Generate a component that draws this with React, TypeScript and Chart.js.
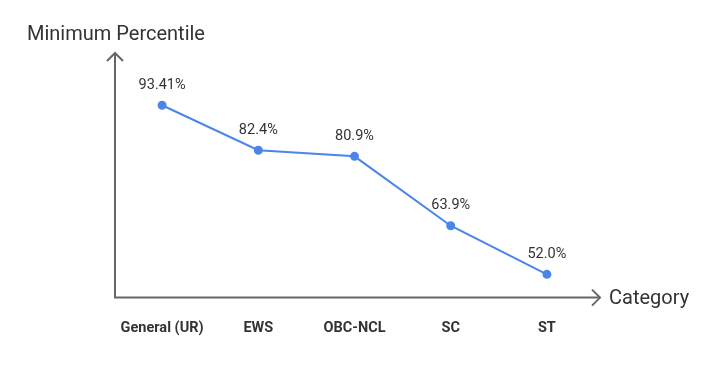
import React, { useEffect, useRef } from "react";
import { Chart, registerables } from "chart.js";

Chart.register(...registerables);

const categories = ["General (UR)", "EWS", "OBC-NCL", "SC", "ST"];
const percentiles = [93.41, 82.4, 80.9, 63.9, 52.0];
const valueLabels = ["93.41%", "82.4%", "80.9%", "63.9%", "52.0%"];
const yTitle = "Minimum Percentile";
const xTitle = "Category";

const axisColor = "#666666";
const lineColor = "#4a86e8";
const textColor = "#333333";

const decorPlugin = {
  id: "decor",
  afterDatasetsDraw(chart: any) {
    const { ctx, chartArea } = chart;
    const left = chartArea.left + 1;
    const bottom = chartArea.bottom;
    const right = chartArea.right + 5;
    const top = 53;
    ctx.save();
    ctx.strokeStyle = axisColor;
    ctx.lineWidth = 2;
    ctx.lineCap = "butt";
    ctx.beginPath();
    ctx.moveTo(left, top);
    ctx.lineTo(left, bottom);
    ctx.lineTo(right, bottom);
    ctx.stroke();
    ctx.lineJoin = "miter";
    ctx.beginPath();
    ctx.moveTo(left - 8, top + 8);
    ctx.lineTo(left, top);
    ctx.lineTo(left + 8, top + 8);
    ctx.moveTo(right - 8, bottom - 8);
    ctx.lineTo(right, bottom);
    ctx.lineTo(right - 8, bottom + 8);
    ctx.stroke();

    ctx.fillStyle = textColor;
    ctx.font = "20px Roboto";
    ctx.textBaseline = "middle";
    ctx.textAlign = "left";
    ctx.fillText(yTitle, 27, 35);
    ctx.fillText(xTitle, right + 9, bottom + 1);

    const meta = chart.getDatasetMeta(0);
    ctx.font = "14.5px Roboto";
    ctx.textAlign = "center";
    ctx.textBaseline = "middle";
    meta.data.forEach((pt: any, i: number) => {
      ctx.fillText(valueLabels[i], pt.x, pt.y - 20);
    });
    ctx.restore();
  },
};

export default function App() {
  const ref = useRef<HTMLCanvasElement | null>(null);
  useEffect(() => {
    if (!ref.current) return;
    const chart = new Chart(ref.current, {
      type: "line",
      data: {
        labels: categories,
        datasets: [
          {
            data: percentiles,
            borderColor: lineColor,
            backgroundColor: lineColor,
            borderWidth: 2,
            pointRadius: 3.5,
            pointHoverRadius: 3.5,
            pointBackgroundColor: lineColor,
            pointBorderColor: lineColor,
            tension: 0,
          },
        ],
      },
      options: {
        animation: false,
        responsive: false,
        maintainAspectRatio: false,
        layout: { padding: { top: 60, left: 114, right: 121, bottom: 7 } },
        plugins: { legend: { display: false }, tooltip: { enabled: false } },
        scales: {
          x: {
            type: "category",
            offset: true,
            grid: { display: false, drawTicks: false },
            border: { display: false },
            ticks: {
              padding: 22,
              color: textColor,
              font: { family: "Roboto", size: 14.5, weight: "bold" },
              maxRotation: 0,
              autoSkip: false,
            },
          },
          y: {
            display: false,
            min: 46.3,
            max: 104.5,
          },
        },
      },
      plugins: [decorPlugin],
    });
    return () => chart.destroy();
  }, []);
  return (
    <canvas
      ref={ref}
      width={716}
      height={366}
      style={{ position: "fixed", left: 0, top: 0, width: 716, height: 366, background: "#fff" }}
    />
  );
}
